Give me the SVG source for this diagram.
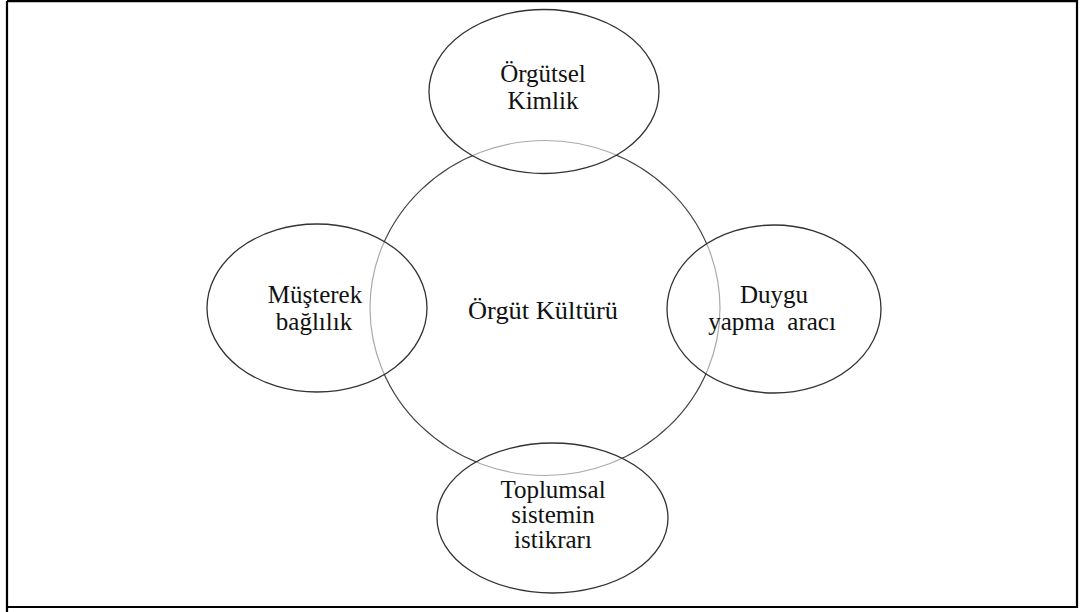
<svg xmlns="http://www.w3.org/2000/svg" width="1080" height="612" viewBox="0 0 1080 612">
  <style>
    .frame { fill: none; stroke: #000; stroke-width: 2.2; }
    .core { fill: #fff; stroke: #444; stroke-width: 1.2; }
    .petal { fill: #fff; fill-opacity: 0.55; stroke: #333; stroke-width: 1.3; }
    .label { font-family: "Liberation Serif", "Times New Roman", serif; font-size: 25px; fill: #111; text-anchor: middle; }
  </style>
  <rect width="1080" height="612" fill="#fff"/>
  <!-- outer frame -->
  <path class="frame" d="M7 612 V1 M7 1.2 H1077 V607 H7"/>

  <!-- central concept -->
  <g id="orgut-kulturu">
    <ellipse class="core" cx="545" cy="308" rx="175" ry="167.5"/>
    <text class="label" x="543" y="319" textLength="150" lengthAdjust="spacingAndGlyphs">Örgüt Kültürü</text>
  </g>

  <!-- surrounding functions, drawn over the centre with a translucent fill -->
  <g id="orgutsel-kimlik">
    <ellipse class="petal" cx="544" cy="91.5" rx="115" ry="82"/>
    <text class="label" x="543" y="82">Örgütsel</text>
    <text class="label" x="543" y="109">Kimlik</text>
  </g>

  <g id="musterek-baglilik">
    <ellipse class="petal" cx="317" cy="308" rx="110" ry="84"/>
    <text class="label" x="315" y="303">Müşterek</text>
    <text class="label" x="314" y="330">bağlılık</text>
  </g>

  <g id="duygu-yapma-araci">
    <ellipse class="petal" cx="774" cy="309" rx="107" ry="84"/>
    <text class="label" x="774" y="303">Duygu</text>
    <text class="label" x="772" y="330" xml:space="preserve">yapma  aracı</text>
  </g>

  <g id="toplumsal-sistemin-istikrari">
    <ellipse class="petal" cx="552.5" cy="518" rx="115.5" ry="75"/>
    <text class="label" x="553" y="498">Toplumsal</text>
    <text class="label" x="553" y="523">sistemin</text>
    <text class="label" x="553" y="548">istikrarı</text>
  </g>
</svg>
